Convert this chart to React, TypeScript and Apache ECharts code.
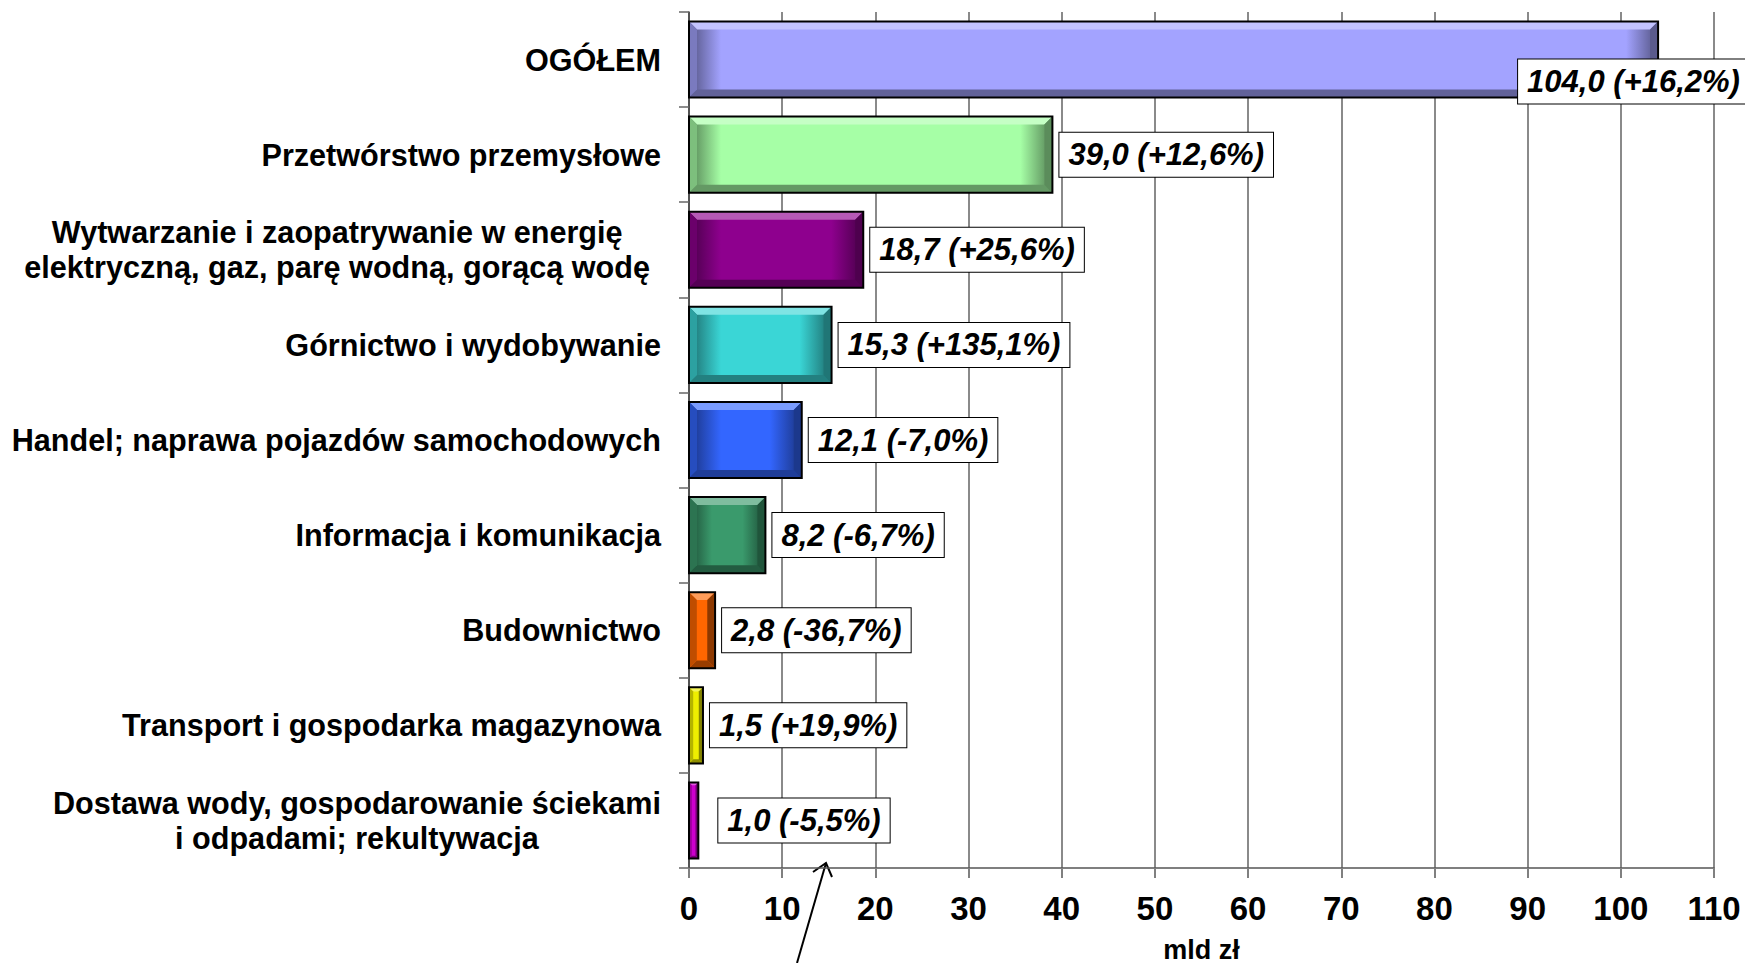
import React, { useEffect, useRef } from "react";
import * as echarts from "echarts";

const categories = [
  "OGÓŁEM",
  "Przetwórstwo przemysłowe",
  "Wytwarzanie i zaopatrywanie w energię\nelektryczną, gaz, parę wodną, gorącą wodę",
  "Górnictwo i wydobywanie",
  "Handel; naprawa pojazdów samochodowych",
  "Informacja i komunikacja",
  "Budownictwo",
  "Transport i gospodarka magazynowa",
  "Dostawa wody, gospodarowanie ściekami\ni odpadami; rekultywacja",
];
const values = [104.0, 39.0, 18.7, 15.3, 12.1, 8.2, 2.8, 1.5, 1.0];
const changes = ["+16,2%", "+12,6%", "+25,6%", "+135,1%", "-7,0%", "-6,7%", "-36,7%", "+19,9%", "-5,5%"];
const barColors = ["#A3A3FF", "#A6FFA6", "#8E008E", "#3AD6D6", "#3366FF", "#3A9A6C", "#FF6600", "#EEEE00", "#CC00CC"];
const axisMin = 0;
const axisMax = 110;
const axisStep = 10;
const axisName = "mld zł";

// label placement tweaks (layout only)
const LABEL_SHIFT: Record<number, [number, number]> = { 0: [-147, 22], 8: [13, 0] };
const PADDED_LABELS = new Set([2]);

const FONT = '"Liberation Sans", Arial, Helvetica, sans-serif';

function mix(hex: string, target: string, t: number): string {
  const p = (h: string) => [parseInt(h.slice(1, 3), 16), parseInt(h.slice(3, 5), 16), parseInt(h.slice(5, 7), 16)];
  const a = p(hex);
  const b = p(target);
  const c = a.map((v, i) => Math.round(v + (b[i] - v) * t));
  return "#" + c.map((v) => v.toString(16).padStart(2, "0")).join("");
}

export default function App() {
  const ref = useRef<HTMLDivElement>(null);
  useEffect(() => {
    document.body.style.margin = "0";
    const chart = echarts.init(ref.current!, null, { renderer: "svg" });
    const labelStyle = { align: "center", fontSize: 30.6, fontWeight: "bold", color: "#000", fontFamily: FONT, lineHeight: 35 };
    const option: any = {
      animation: false,
      backgroundColor: "#ffffff",
      grid: { left: 689, right: 31, top: 12, bottom: 95, containLabel: false, outerBoundsMode: "none" },
      xAxis: {
        type: "value",
        min: axisMin,
        max: axisMax,
        interval: axisStep,
        name: axisName,
        nameLocation: "middle",
        nameGap: 68,
        nameTextStyle: { fontSize: 27, fontWeight: "bold", color: "#000", fontFamily: FONT },
        axisLine: { show: true, lineStyle: { color: "#555", width: 1.5 } },
        axisTick: { show: true, length: 10, lineStyle: { color: "#808080", width: 2 } },
        axisLabel: { fontSize: 33, fontWeight: "bold", color: "#000", margin: 24, fontFamily: FONT },
        splitLine: { show: true, lineStyle: { color: "#8a8a8a", width: 2 } },
      },
      yAxis: {
        type: "category",
        data: categories,
        inverse: true,
        axisLine: { show: true, lineStyle: { color: "#404040", width: 1.5 } },
        axisTick: { show: true, length: 10, lineStyle: { color: "#666", width: 1.5 } },
        axisLabel: {
          margin: 28,
          formatter: (v: string, i: number) => {
            const key = PADDED_LABELS.has(i) ? "p" : "c";
            return v.split("\n").map((l) => `{${key}|${l}}`).join("\n");
          },
          rich: {
            c: labelStyle,
            p: { ...labelStyle, padding: [0, 11, 0, 0] },
          },
        },
        splitLine: { show: false },
      },
      series: [
        {
          type: "custom",
          data: values.map((v, i) => [v, i]),
          encode: { x: 0, y: 1 },
          clip: false,
          renderItem: (params: any, api: any) => {
            const idx = params.dataIndex;
            const v = api.value(0);
            const ci = api.value(1);
            const start = api.coord([0, ci]);
            const end = api.coord([v, ci]);
            const band = api.size([0, 1])[1];
            const h = band * 0.8;
            const x0 = start[0];
            const x1 = end[0];
            const y0 = start[1] - h / 2;
            const y1 = start[1] + h / 2;
            const w = x1 - x0;
            const b = Math.min(8, w * 0.3, h / 2);
            const base = barColors[idx];
            let fill: any = base;
            if (w > 60) {
              const dark = mix(base, "#000000", 0.5);
              const s = Math.min(0.3, 32 / w);
              fill = new echarts.graphic.LinearGradient(0, 0, 1, 0, [
                { offset: 0, color: dark },
                { offset: s, color: base },
                { offset: 1 - s, color: base },
                { offset: 1, color: dark },
              ]);
            }
            const [sx, sy] = LABEL_SHIFT[idx] || [0, 0];
            const label = `${v.toFixed(1).replace(".", ",")} (${changes[idx]})`;
            return {
              type: "group",
              children: [
                { type: "rect", shape: { x: x0, y: y0, width: w, height: h }, style: { fill } },
                {
                  type: "polygon",
                  shape: { points: [[x0, y0], [x1, y0], [x1 - b, y0 + b], [x0 + b, y0 + b]] },
                  style: { fill: mix(base, "#ffffff", 0.35) },
                },
                {
                  type: "polygon",
                  shape: { points: [[x0, y1], [x1, y1], [x1 - b, y1 - b], [x0 + b, y1 - b]] },
                  style: { fill: mix(base, "#000000", 0.4) },
                },
                {
                  type: "polygon",
                  shape: { points: [[x0, y0], [x0 + b, y0 + b], [x0 + b, y1 - b], [x0, y1]] },
                  style: { fill: mix(base, "#000000", 0.25) },
                },
                {
                  type: "polygon",
                  shape: { points: [[x1, y0], [x1 - b, y0 + b], [x1 - b, y1 - b], [x1, y1]] },
                  style: { fill: mix(base, "#000000", 0.45) },
                },
                {
                  type: "rect",
                  shape: { x: x0, y: y0, width: w, height: h },
                  style: { fill: "none", stroke: "#000", lineWidth: 2 },
                },
                {
                  type: "text",
                  x: x1 + 7 + sx,
                  y: (y0 + y1) / 2 + sy,
                  style: {
                    text: label,
                    font: `italic bold 31px ${FONT}`,
                    fill: "#000",
                    align: "left",
                    verticalAlign: "middle",
                    backgroundColor: "#fff",
                    borderColor: "#000",
                    borderWidth: 1,
                    padding: [7, 9, 6, 9],
                  },
                },
              ],
            };
          },
        },
      ],
      graphic: [
        { type: "line", shape: { x1: 797, y1: 963, x2: 826, y2: 863 }, style: { stroke: "#000", lineWidth: 2 } },
        {
          type: "polyline",
          shape: { points: [[813, 872], [826, 863], [832, 877]] },
          style: { stroke: "#000", lineWidth: 2, fill: "none" },
        },
      ],
    };
    chart.setOption(option);
    return () => chart.dispose();
  }, []);
  return <div ref={ref} style={{ position: "absolute", left: 0, top: 0, width: 1745, height: 963 }} />;
}
